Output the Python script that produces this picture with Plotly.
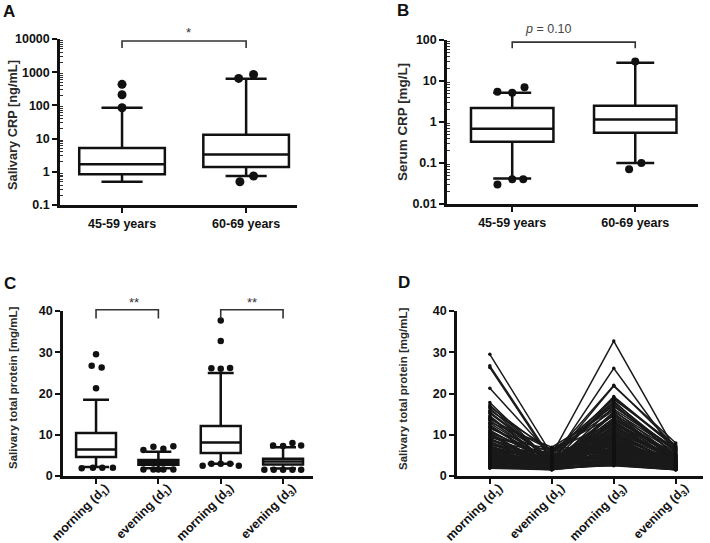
import plotly.graph_objects as go
import math

W, H = 710, 543

# ---------------- data ----------------
age_groups = ["45-59 years", "60-69 years"]

# Panel A: salivary CRP [ng/mL]
a_q1 = [0.85, 1.4]
a_median = [1.7, 3.3]
a_q3 = [5.2, 13.0]
a_lower = [0.5, 0.75]
a_upper = [85, 630]
a_out_values = [[85, 210, 430], [0.5, 0.75, 650, 850]]
a_out_jitter = [[0, 0, 0], [-0.05, 0.06, -0.06, 0.06]]

# Panel B: serum CRP [mg/L]
b_q1 = [0.33, 0.55]
b_median = [0.68, 1.15]
b_q3 = [2.2, 2.5]
b_lower = [0.042, 0.1]
b_upper = [5.2, 28]
b_out_values = [[0.03, 0.04, 0.04, 5.5, 5.2, 7.0], [0.07, 0.1, 30]]
b_out_jitter = [[-0.12, 0, 0.09, -0.12, 0, 0.10], [-0.05, 0.05, 0]]

# Panel C: salivary total protein [mg/mL]
times = ["morning (d<sub>1</sub>)", "evening (d<sub>1</sub>)",
         "morning (d<sub>3</sub>)", "evening (d<sub>3</sub>)"]
c_q1 = [4.6, 2.7, 5.6, 2.8]
c_median = [6.4, 3.3, 8.1, 3.5]
c_q3 = [10.4, 3.9, 12.1, 4.2]
c_lower = [2.2, 1.9, 3.0, 1.8]
c_upper = [18.5, 5.9, 25.0, 7.0]
c_out_values = [
    [21.3, 26.7, 26.3, 29.5, 1.9, 2.0, 2.0, 2.0],
    [6.3, 7.1, 6.6, 7.2, 1.6, 1.6, 1.6, 1.6, 1.6],
    [37.7, 32.7, 26.1, 26.0, 26.2, 2.5, 3.0, 3.0, 3.0, 2.5],
    [7.4, 7.3, 8.0, 7.4, 1.5, 1.5, 1.5, 1.5, 1.5],
]
c_out_jitter = [
    [0, -0.07, 0.09, 0, -0.23, -0.05, 0.10, 0.27],
    [-0.24, -0.08, 0.08, 0.24, -0.24, -0.08, 0.0, 0.08, 0.24],
    [0, 0, -0.15, 0, 0.15, -0.29, -0.15, 0, 0.15, 0.29],
    [-0.16, 0, 0.15, 0.29, -0.30, -0.15, 0, 0.15, 0.29],
]

# Panel D: individual subjects (morning d1, evening d1, morning d3, evening d3)
d_morning1 = [29.5, 26.7, 26.3, 21.3, 17.8, 16.5, 15.9, 15.2, 14.6, 14.0,
              13.5, 13.0, 12.4, 12.0, 11.5, 11.1, 10.8, 10.3, 10.0, 9.7,
              9.3, 9.0, 8.7, 8.4, 8.1, 7.8, 7.5, 7.2, 7.0, 6.8,
              6.5, 6.3, 6.1, 5.9, 5.7, 5.5, 5.3, 5.1, 4.9, 4.7,
              4.5, 4.3, 4.1, 3.9, 3.7, 3.5, 3.3, 3.1, 3.0, 2.9,
              2.8, 2.7, 2.6, 2.5, 2.4, 2.3, 2.2, 2.1, 2.0, 1.9,
              12.8, 11.9, 10.5, 9.9, 9.1, 8.6, 8.2, 7.7, 7.3, 6.9,
              6.6, 6.2, 5.8, 5.6, 5.2, 5.0, 4.8, 4.6, 4.4, 4.2,
              4.0, 3.8, 3.6, 3.4, 3.2, 3.0, 2.9, 2.8, 2.6, 2.5,
              2.4, 2.3, 2.2, 2.1, 2.0, 15.5, 16.8, 17.2, 14.3, 13.8]
d_evening1 = [5.2, 4.1, 3.6, 4.8, 3.3, 2.9, 6.3, 3.8, 2.6, 4.4,
              3.1, 7.0, 2.4, 3.5, 5.6, 2.8, 3.9, 2.2, 4.6, 3.0,
              6.6, 2.5, 3.4, 1.9, 4.0, 2.7, 5.1, 3.2, 2.1, 3.7,
              2.3, 4.3, 1.8, 2.9, 6.0, 2.6, 3.3, 1.6, 2.4, 3.8,
              2.0, 4.9, 2.8, 1.5, 3.1, 2.2, 3.6, 1.7, 2.5, 4.2,
              1.9, 3.0, 2.3, 1.6, 2.7, 2.0, 3.4, 1.8, 2.1, 1.5,
              3.5, 2.9, 4.5, 2.3, 3.1, 5.4, 2.0, 3.7, 2.6, 4.1,
              1.8, 3.3, 2.5, 6.8, 2.2, 3.0, 1.7, 2.8, 4.7, 2.4,
              1.9, 3.6, 2.1, 5.0, 2.7, 1.6, 3.2, 2.0, 4.4, 1.8,
              2.6, 3.9, 1.5, 2.3, 3.4, 4.0, 5.7, 3.0, 2.8, 6.2]
d_morning3 = [32.7, 18.2, 26.1, 22.0, 15.3, 19.0, 12.8, 21.8, 14.1, 17.5,
              10.9, 16.2, 13.4, 9.6, 18.6, 11.7, 8.8, 15.0, 12.2, 7.9,
              14.5, 10.1, 6.7, 13.0, 9.2, 11.3, 5.8, 8.5, 15.6, 7.3,
              10.6, 6.2, 9.9, 4.9, 8.0, 12.6, 5.4, 7.1, 4.3, 6.8,
              11.0, 3.9, 5.9, 8.3, 3.4, 6.4, 4.7, 7.6, 3.1, 5.0,
              9.4, 2.8, 4.1, 6.0, 3.6, 2.5, 4.5, 3.2, 5.3, 2.9,
              14.8, 9.0, 17.9, 7.7, 12.0, 5.6, 10.4, 6.6, 16.8, 4.6,
              8.7, 13.7, 3.8, 7.0, 11.6, 5.2, 9.7, 3.3, 6.3, 14.0,
              4.4, 8.1, 2.7, 5.7, 10.2, 3.0, 6.9, 4.0, 7.4, 2.6,
              5.5, 12.4, 3.5, 4.8, 8.9, 19.3, 15.9, 11.8, 13.1, 17.0]
d_evening3 = [6.1, 4.8, 5.5, 7.2, 3.9, 6.8, 3.2, 8.0, 4.4, 5.0,
              2.7, 6.5, 3.6, 2.3, 7.5, 4.1, 2.9, 5.8, 3.3, 2.1,
              4.7, 3.0, 1.9, 5.2, 2.6, 3.8, 1.7, 2.4, 6.2, 3.1,
              4.5, 2.2, 3.5, 1.6, 2.8, 5.6, 2.0, 3.4, 1.8, 2.5,
              4.2, 1.5, 2.7, 3.7, 2.3, 3.0, 1.9, 4.0, 2.1, 2.6,
              3.9, 1.6, 2.4, 3.3, 2.0, 1.5, 2.9, 1.7, 2.2, 1.8,
              3.8, 2.6, 5.9, 2.2, 4.3, 1.9, 3.1, 2.5, 6.6, 1.7,
              3.4, 4.9, 1.6, 2.8, 4.6, 2.0, 3.6, 1.5, 2.4, 5.3,
              1.8, 3.2, 1.6, 2.3, 4.1, 1.7, 2.7, 2.1, 3.0, 1.5,
              2.2, 5.0, 1.9, 2.6, 3.5, 7.0, 4.4, 3.7, 2.9, 6.4]

# ---------------- helpers ----------------
FONT = "Liberation Sans, Arial, sans-serif"
BLACK = "#111111"


def px(x):
    return x / W


def py(y):
    return 1 - y / H


AX = {
    "A": dict(xd=[px(60), px(297)], yd=[py(205), py(39)], xr=[-0.5, 1.41], yr=[-1, 4], log=True),
    "B": dict(xd=[px(447), px(698)], yd=[py(204), py(40)], xr=[-0.53, 1.51], yr=[-2, 2], log=True),
    "C": dict(xd=[px(63), px(313)], yd=[py(476), py(311)], xr=[-0.53, 3.48], yr=[0, 40], log=False),
    "D": dict(xd=[px(457), px(703)], yd=[py(476), py(311)], xr=[-0.53, 3.44], yr=[0, 40], log=False),
}


def to_paper_x(panel, v):
    a = AX[panel]
    f = (v - a["xr"][0]) / (a["xr"][1] - a["xr"][0])
    return a["xd"][0] + f * (a["xd"][1] - a["xd"][0])


def to_paper_y(panel, v):
    a = AX[panel]
    vv = math.log10(v) if a["log"] else v
    f = (vv - a["yr"][0]) / (a["yr"][1] - a["yr"][0])
    return a["yd"][0] + f * (a["yd"][1] - a["yd"][0])


fig = go.Figure()


def add_boxes(xa, ya, q1, med, q3, lo, hi, width, whisker, lw):
    for i in range(len(q1)):
        fig.add_trace(go.Box(
            x=[i], q1=[q1[i]], median=[med[i]], q3=[q3[i]],
            lowerfence=[lo[i]], upperfence=[hi[i]],
            width=width, whiskerwidth=whisker, boxpoints=False,
            fillcolor="white", line=dict(color=BLACK, width=lw),
            xaxis=xa, yaxis=ya, showlegend=False, hoverinfo="skip"))


def add_outliers(xa, ya, values, jitter, size):
    xs, ys = [], []
    for i, (vals, jit) in enumerate(zip(values, jitter)):
        for v, j in zip(vals, jit):
            xs.append(i + j)
            ys.append(v)
    fig.add_trace(go.Scatter(
        x=xs, y=ys, mode="markers", marker=dict(color=BLACK, size=size),
        xaxis=xa, yaxis=ya, showlegend=False, cliponaxis=False))


shapes = []


def add_bracket(panel, x0, x1, top, bottom):
    X0, X1 = to_paper_x(panel, x0), to_paper_x(panel, x1)
    T, B = to_paper_y(panel, top), to_paper_y(panel, bottom)
    shapes.append(dict(type="path", xref="paper", yref="paper",
                       path=f"M {X0},{B} L {X0},{T} L {X1},{T} L {X1},{B}",
                       line=dict(color="#333333", width=1.6)))


# Panel A
add_boxes("x", "y", a_q1, a_median, a_q3, a_lower, a_upper, 0.69, 0.48, 2.5)
add_outliers("x", "y", a_out_values, a_out_jitter, 9)
add_bracket("A", 0, 1, 8700, 5400)

# Panel B
add_boxes("x2", "y2", b_q1, b_median, b_q3, b_lower, b_upper, 0.67, 0.46, 2.5)
add_outliers("x2", "y2", b_out_values, b_out_jitter, 8)
add_bracket("B", 0, 1, 89, 63)

# Panel C
add_boxes("x3", "y3", c_q1, c_median, c_q3, c_lower, c_upper, 0.64, 0.65, 2.5)
add_outliers("x3", "y3", c_out_values, c_out_jitter, 6.5)
add_bracket("C", 0, 1, 40.3, 38.2)
add_bracket("C", 2, 3, 40.3, 38.2)

# Panel D
dx, dy = [], []
for k in range(len(d_morning1)):
    vals = [d_morning1[k], d_evening1[k], d_morning3[k], d_evening3[k]]
    dx += [0, 1, 2, 3, None]
    dy += vals + [None]
fig.add_trace(go.Scatter(
    x=dx, y=dy, mode="lines+markers",
    line=dict(color="#1a1a1a", width=1.5),
    marker=dict(color="#111111", size=3.5),
    xaxis="x4", yaxis="y4", showlegend=False, cliponaxis=False))

# ---------------- axes ----------------
tickfont = dict(family=FONT, size=12.5, color=BLACK, weight="bold")
rot_tickfont = dict(family=FONT, size=12.5, color=BLACK, weight="bold")
common_axis = dict(showline=True, linecolor=BLACK, linewidth=2.5,
                   ticks="outside", ticklen=5, tickwidth=2, tickcolor=BLACK,
                   showgrid=False, zeroline=False, automargin=False)
rot_axis = dict(tickangle=-45, ticklabelstandoff=-8, ticklabelshift=9,
                tickfont=rot_tickfont)


def minor_log(lo, hi):
    vals = []
    for e in range(lo, hi):
        for m in range(2, 10):
            vals.append(m * 10 ** e)
    return dict(tickvals=vals, ticks="inside", ticklen=3, tickwidth=1,
                tickcolor="#333", showgrid=False)


fig.update_layout(
    width=W, height=H, margin=dict(l=0, r=0, t=0, b=0, autoexpand=False),
    paper_bgcolor="white", plot_bgcolor="white",
    xaxis=dict(domain=AX["A"]["xd"], anchor="y", range=AX["A"]["xr"],
               tickvals=[0, 1], ticktext=age_groups, type="linear",
               tickfont=tickfont, **common_axis),
    yaxis=dict(domain=AX["A"]["yd"], anchor="x", type="log", range=AX["A"]["yr"],
               tickvals=[0.1, 1, 10, 100, 1000, 10000],
               ticktext=["0.1", "1", "10", "100", "1000", "10000"],
               minor=minor_log(-1, 4), tickfont=tickfont, **common_axis),
    xaxis2=dict(domain=AX["B"]["xd"], anchor="y2", range=AX["B"]["xr"],
                tickvals=[0, 1], ticktext=age_groups, type="linear",
                tickfont=tickfont, **common_axis),
    yaxis2=dict(domain=AX["B"]["yd"], anchor="x2", type="log", range=AX["B"]["yr"],
                tickvals=[0.01, 0.1, 1, 10, 100],
                ticktext=["0.01", "0.1", "1", "10", "100"],
                minor=minor_log(-2, 2), tickfont=tickfont, **common_axis),
    xaxis3=dict(domain=AX["C"]["xd"], anchor="y3", range=AX["C"]["xr"],
                tickvals=[0, 1, 2, 3], ticktext=times,
                type="linear", **rot_axis, **common_axis),
    yaxis3=dict(domain=AX["C"]["yd"], anchor="x3", range=AX["C"]["yr"],
                tickvals=[0, 10, 20, 30, 40], tickfont=tickfont, **common_axis),
    xaxis4=dict(domain=AX["D"]["xd"], anchor="y4", range=AX["D"]["xr"],
                tickvals=[0, 1, 2, 3], ticktext=times,
                type="linear", **rot_axis, **common_axis),
    yaxis4=dict(domain=AX["D"]["yd"], anchor="x4", range=AX["D"]["yr"],
                tickvals=[0, 10, 20, 30, 40], tickfont=tickfont, **common_axis),
    shapes=shapes,
)

# ---------------- annotations ----------------
ann = []
for text, x, y, size in [("Salivary CRP [ng/mL]", 13, 125, 12.8),
                         ("Serum CRP [mg/L]", 403, 122, 13.4),
                         ("Salivary total protein [mg/mL]", 13, 388, 11.5),
                         ("Salivary total protein [mg/mL]", 403, 389, 11.5)]:
    ann.append(dict(text=text, x=px(x), y=py(y), xref="paper", yref="paper",
                    textangle=-90, showarrow=False,
                    font=dict(family=FONT, size=size, color="#2a2a2a", weight="bold"),
                    xanchor="center", yanchor="middle"))

letter_font = dict(family=FONT, size=17, color=BLACK, weight="bold")
for text, x, y in [("A", 1, 12), ("B", 395, 11), ("C", 2, 283), ("D", 396, 282)]:
    ann.append(dict(text=text, x=px(x), y=py(y), xref="paper", yref="paper",
                    showarrow=False, font=letter_font, xanchor="left",
                    yanchor="middle"))

sig_font = dict(family=FONT, size=13, color="#333333")
ann.append(dict(text="*", x=to_paper_x("A", 0.5), xref="paper", y=py(33), yref="paper",
                showarrow=False, font=sig_font, yanchor="middle"))
ann.append(dict(text="<i>p</i> = 0.10", x=to_paper_x("B", 0.5), xref="paper",
                y=py(29), yref="paper", showarrow=False,
                font=dict(family=FONT, size=12.5, color="#444444"), yanchor="middle"))
for xc in [0.5, 2.5]:
    ann.append(dict(text="**", x=to_paper_x("C", xc), xref="paper", y=py(302),
                    yref="paper", showarrow=False, font=sig_font, yanchor="middle"))

fig.update_layout(annotations=ann)

fig.write_html("out.html", config={"displayModeBar": False},
               post_script="document.body.style.margin='0px';document.body.style.padding='0px';")
